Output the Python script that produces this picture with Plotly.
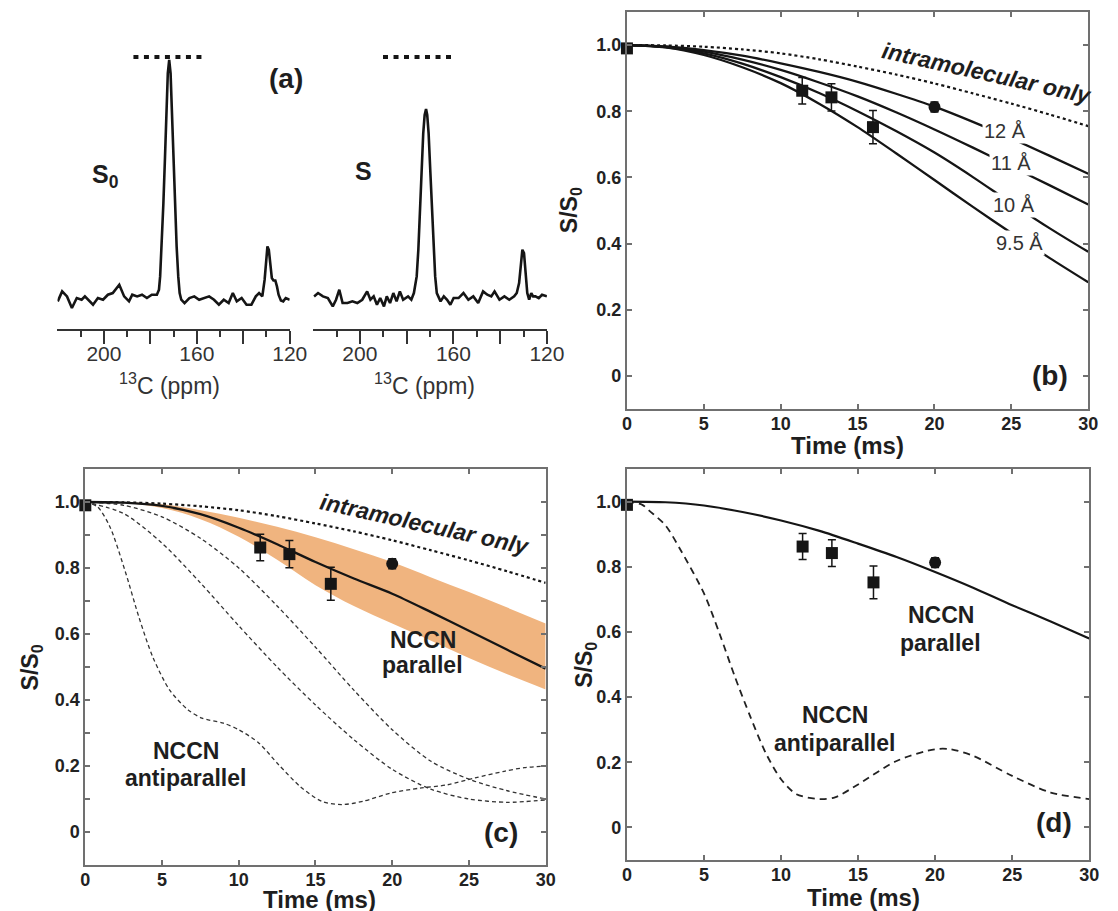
import plotly.graph_objects as go

FONT = "Liberation Sans, Arial, Helvetica, sans-serif"
W, H = 1118, 911

# ---------------- (a) 13C spectra ----------------
s0_ppm = [219.9, 218.0, 215.9, 213.8, 211.7, 209.6, 208.2, 206.1, 204.7, 202.6,
          200.4, 198.3, 196.2, 193.4, 191.3, 189.2, 187.8, 185.7, 183.6, 181.5,
          179.4, 177.2, 176.3, 175.8, 175.1, 174.4, 173.7, 173.0, 172.5, 171.9,
          171.3, 170.8, 170.1, 169.4, 168.7, 168.0, 167.4, 166.7, 165.3, 163.2,
          161.1, 159.0, 156.8, 154.7, 152.6, 150.5, 148.4, 146.3, 144.5, 142.8,
          140.7, 138.6, 136.5, 134.6, 133.2, 131.8, 130.8, 130.1, 129.6, 129.0,
          128.4, 127.7, 127.0, 126.2, 125.5, 124.8, 123.8, 122.8, 121.7, 120.0]
s0_int = [-0.014, 0.028, 0.007, -0.042, 0.0, -0.007, 0.007, -0.014, -0.028, 0.0,
          -0.007, 0.014, 0.021, 0.056, 0.007, -0.014, 0.014, 0.007, 0.014, 0.0,
          0.014, 0.014, 0.035, 0.091, 0.217, 0.398, 0.594, 0.804, 0.944, 1.0,
          0.944, 0.804, 0.594, 0.398, 0.217, 0.091, 0.021, -0.007, -0.021, 0.0,
          0.007, -0.007, 0.0, 0.007, -0.007, -0.028, -0.007, -0.021, 0.021, -0.014,
          0.0, -0.028, -0.028, 0.007, 0.021, 0.007, 0.077, 0.175, 0.217, 0.203,
          0.147, 0.084, 0.074, 0.074, 0.049, 0.014, -0.010, -0.014, 0.0, -0.007]

s_ppm = [219.6, 217.9, 215.8, 213.7, 211.6, 210.2, 208.8, 207.4, 205.3, 203.2,
         201.1, 199.0, 196.9, 195.5, 194.1, 192.7, 191.3, 189.7, 188.5, 187.1,
         185.7, 184.3, 182.9, 181.5, 179.4, 178.0, 176.9, 176.4, 175.7, 175.0,
         174.3, 173.6, 172.9, 172.3, 171.7, 171.2, 170.6, 169.9, 169.2, 168.5,
         167.8, 167.1, 165.5, 164.1, 162.7, 161.3, 159.9, 157.8, 155.7, 153.6,
         151.5, 149.4, 147.3, 145.5, 143.8, 142.4, 140.3, 138.2, 136.1, 134.0,
         132.9, 131.9, 131.2, 130.5, 129.8, 129.1, 128.4, 127.6, 126.7, 125.9,
         124.9, 123.5, 122.1, 120.0]
s_int = [0.007, 0.021, 0.007, 0.0, -0.035, -0.007, 0.035, -0.021, -0.021, -0.014,
         -0.021, -0.007, 0.028, -0.007, 0.007, -0.028, 0.0, -0.035, 0.007, -0.021,
         0.021, -0.014, 0.028, -0.007, 0.007, -0.007, 0.021, 0.049, 0.091, 0.203,
         0.371, 0.538, 0.692, 0.769, 0.794, 0.769, 0.692, 0.538, 0.371, 0.203,
         0.091, 0.021, -0.014, 0.007, -0.007, -0.028, 0.0, 0.0, 0.021, -0.007,
         0.007, -0.021, 0.028, 0.014, 0.007, 0.028, -0.007, 0.007, -0.007, 0.007,
         0.021, 0.063, 0.147, 0.203, 0.189, 0.091, 0.021, -0.007, 0.021, 0.007,
         0.007, 0.0, 0.014, 0.007]

ref_s0_ppm = [187.3, 156.1]
ref_s_ppm = [190.1, 159.1]
ref_level = [1.013, 1.013]

ppm_major = [200, 180, 160, 140, 120]
ppm_major_text = ["200", "", "160", "", "120"]
ppm_minor = [210, 190, 170, 150, 130]

# ---------------- (b)-(d) decay curves ----------------
time_grid = [0, 2.5, 5, 7.5, 10, 12.5, 15, 17.5, 20, 22.5, 25, 27.5, 30]
intra_only = [1.0, 0.999, 0.995, 0.987, 0.975, 0.957, 0.935, 0.911, 0.884, 0.854, 0.823, 0.79, 0.755]
r12 = [1.0, 0.996, 0.985, 0.968, 0.945, 0.919, 0.889, 0.853, 0.814, 0.768, 0.718, 0.665, 0.611]
r11 = [1.0, 0.995, 0.980, 0.956, 0.925, 0.887, 0.845, 0.797, 0.745, 0.690, 0.633, 0.576, 0.518]
r10 = [1.0, 0.994, 0.975, 0.944, 0.903, 0.855, 0.800, 0.740, 0.675, 0.601, 0.522, 0.446, 0.375]
r95 = [1.0, 0.993, 0.970, 0.933, 0.885, 0.823, 0.752, 0.673, 0.592, 0.511, 0.432, 0.356, 0.283]
dist_labels = ["12 Å", "11 Å", "10 Å", "9.5 Å"]

exp_t = [0, 11.4, 13.3, 16.0, 20.0]
exp_v = [0.99, 0.862, 0.842, 0.752, 0.813]
exp_err = [0, 0.04, 0.041, 0.05, 0.015]
exp_sym = ["square", "square", "square", "square", "circle"]

par_lo = [1.0, 0.997, 0.982, 0.948, 0.895, 0.825, 0.748, 0.685, 0.632, 0.58, 0.527, 0.478, 0.432]
par_hi = [1.0, 0.999, 0.993, 0.975, 0.952, 0.925, 0.893, 0.857, 0.818, 0.772, 0.727, 0.68, 0.632]
par_mid = [1.0, 0.998, 0.988, 0.963, 0.922, 0.872, 0.818, 0.768, 0.722, 0.667, 0.61, 0.552, 0.495]

anti_a_t = [0, 0.8, 1.6, 2.6, 3.5, 4.4, 5.5, 6.7, 7.6, 9, 10, 11.3, 12.6, 14, 15.4, 16.7,
            18.1, 19.9, 21.8, 23.6, 25.4, 27.3, 28.6, 30]
anti_a_v = [1.0, 0.985, 0.925, 0.79, 0.65, 0.53, 0.43, 0.37, 0.345, 0.33, 0.31, 0.27, 0.204,
            0.138, 0.093, 0.083, 0.093, 0.118, 0.133, 0.143, 0.164, 0.184, 0.195, 0.20]
anti_b = [1.0, 0.965, 0.875, 0.755, 0.625, 0.5, 0.385, 0.28, 0.19, 0.13, 0.10, 0.09, 0.097]
anti_c = [1.0, 0.99, 0.955, 0.89, 0.8, 0.685, 0.56, 0.43, 0.31, 0.215, 0.16, 0.125, 0.10]

d_par = [1.0, 0.998, 0.988, 0.968, 0.942, 0.91, 0.871, 0.83, 0.784, 0.735, 0.682, 0.632, 0.58]
d_anti_t = [0, 1, 1.5, 2.5, 3.5, 5, 6, 7, 8, 9, 10, 11, 12.5, 13.5, 15, 17.5, 20, 21, 22.5, 25, 27.5, 30]
d_anti_v = [1.0, 0.99, 0.97, 0.927, 0.85, 0.718, 0.596, 0.463, 0.341, 0.229, 0.148, 0.102, 0.087,
            0.092, 0.132, 0.204, 0.24, 0.24, 0.219, 0.158, 0.107, 0.087]

y_ticks = [0, 0.2, 0.4, 0.6, 0.8, 1.0]
y_ticktext = ["0", "0.2", "0.4", "0.6", "0.8", "1.0"]
x_ticks = [0, 5, 10, 15, 20, 25, 30]


def px_x(a, b):
    return [a / W, b / W]


def px_y(top, bottom):
    return [1 - bottom / H, 1 - top / H]


fig = go.Figure()
BLACK = "#151515"


def line(x, y, ax, width=2.2, dash=None, color=BLACK, shape="spline"):
    fig.add_trace(go.Scatter(x=x, y=y, mode="lines", xaxis="x" + ax, yaxis="y" + ax,
                             line=dict(color=color, width=width, dash=dash, shape=shape, smoothing=0.8),
                             showlegend=False, hoverinfo="skip"))


# (a)
fig.add_trace(go.Scatter(x=s0_ppm, y=s0_int, mode="lines", xaxis="x", yaxis="y",
                         line=dict(color=BLACK, width=2.6), showlegend=False, hoverinfo="skip"))
fig.add_trace(go.Scatter(x=ref_s0_ppm, y=ref_level, mode="lines", xaxis="x", yaxis="y",
                         line=dict(color=BLACK, width=4, dash="5px,5.5px"), showlegend=False, hoverinfo="skip"))
fig.add_trace(go.Scatter(x=s_ppm, y=s_int, mode="lines", xaxis="x2", yaxis="y2",
                         line=dict(color=BLACK, width=2.6), showlegend=False, hoverinfo="skip"))
fig.add_trace(go.Scatter(x=ref_s_ppm, y=ref_level, mode="lines", xaxis="x2", yaxis="y2",
                         line=dict(color=BLACK, width=4, dash="5px,5.5px"), showlegend=False, hoverinfo="skip"))

# (b)
line(time_grid, intra_only, "3", width=2.2, dash="dot")
for ys in (r12, r11, r10, r95):
    line(time_grid, ys, "3", width=2.3)

# (c)
fig.add_trace(go.Scatter(x=time_grid, y=par_lo, mode="lines", xaxis="x4", yaxis="y4",
                         line=dict(width=0, shape="spline"), showlegend=False, hoverinfo="skip"))
fig.add_trace(go.Scatter(x=time_grid, y=par_hi, mode="lines", xaxis="x4", yaxis="y4", fill="tonexty",
                         fillcolor="rgb(240,180,127)", line=dict(width=0, shape="spline"),
                         showlegend=False, hoverinfo="skip"))
line(anti_a_t, anti_a_v, "4", width=1.3, dash="4px,3px", color="#333")
line(time_grid, anti_b, "4", width=1.3, dash="4px,3px", color="#333")
line(time_grid, anti_c, "4", width=1.3, dash="4px,3px", color="#333")
line(time_grid, intra_only, "4", width=2.2, dash="dot")
line(time_grid, par_mid, "4", width=2.3)

# (d)
line(time_grid, d_par, "5", width=2.2)
line(d_anti_t, d_anti_v, "5", width=1.8, dash="7px,5px", color="#222")

# experimental points
for ax in ("3", "4", "5"):
    fig.add_trace(go.Scatter(x=exp_t, y=exp_v, mode="markers", xaxis="x" + ax, yaxis="y" + ax,
                             marker=dict(symbol=exp_sym, size=12, color=BLACK),
                             error_y=dict(type="data", array=exp_err, color=BLACK, thickness=1.5, width=4),
                             cliponaxis=False, showlegend=False, hoverinfo="skip"))

frame_col = "#707070"
tick_font = dict(family=FONT, size=18, color="#222", weight="bold")


def frame_x(domain, anchor):
    return dict(domain=domain, anchor=anchor, range=[0, 30], tickvals=x_ticks,
                showline=True, linecolor=frame_col, linewidth=2, mirror="ticks",
                ticks="inside", ticklen=5, tickwidth=1.5, tickcolor=frame_col,
                showgrid=False, zeroline=False, tickfont=tick_font, ticklabelstandoff=-3)


def frame_y(domain, anchor, minor=False):
    d = dict(domain=domain, anchor=anchor, range=[-0.1, 1.1], tickvals=y_ticks, ticktext=y_ticktext,
             showline=True, linecolor=frame_col, linewidth=2, mirror="ticks",
             ticks="inside", ticklen=5, tickwidth=1.5, tickcolor=frame_col,
             showgrid=False, zeroline=False, tickfont=tick_font)
    if minor:
        d["minor"] = dict(tickvals=[0.1, 0.3, 0.5, 0.7, 0.9], ticks="inside", ticklen=5,
                          tickwidth=1.5, tickcolor=frame_col)
    return d


def spec_x(domain, anchor):
    return dict(domain=domain, anchor=anchor, range=[220, 120], tickvals=ppm_major, ticktext=ppm_major_text,
                showline=True, linecolor="#333", linewidth=1.5, ticks="outside", ticklen=13,
                tickwidth=1.5, tickcolor="#333", showgrid=False, zeroline=False,
                tickfont=dict(family=FONT, size=21, color="#333"), ticklabelstandoff=-8,
                minor=dict(tickvals=ppm_minor, ticks="outside", ticklen=6, tickwidth=1.5, tickcolor="#333"))


spec_ydom = px_y(40, 329)
spec_yrange = [-0.13, 1.084]

fig.update_layout(
    width=W, height=H, margin=dict(l=0, r=0, t=0, b=0),
    paper_bgcolor="white", plot_bgcolor="white", showlegend=False,
    xaxis=spec_x(px_x(53.6, 290.7), "y"),
    yaxis=dict(domain=spec_ydom, range=spec_yrange, visible=False, anchor="x"),
    xaxis2=spec_x(px_x(314.6, 553.3), "y2"),
    yaxis2=dict(domain=spec_ydom, range=spec_yrange, visible=False, anchor="x2"),
    xaxis3=frame_x(px_x(635, 1106), "y3"),
    yaxis3=frame_y(px_y(12, 409), "x3"),
    xaxis4=frame_x(px_x(82, 552), "y4"),
    yaxis4=frame_y(px_y(469, 865), "x4", minor=True),
    xaxis5=frame_x(px_x(635, 1107), "y5"),
    yaxis5=frame_y(px_y(469, 860), "x5"),
)

anns = []


def ann(text, x, y, size, ref=None, bold=True, italic=False, angle=0, color="#1e1e1e", bg=None):
    d = dict(text=text, x=x, y=y, showarrow=False, textangle=angle,
             font=dict(family=FONT, size=size, color=color, weight="bold" if bold else "normal",
                       style="italic" if italic else "normal"),
             xanchor="center", yanchor="middle")
    if ref is None:
        d.update(xref="paper", yref="paper", x=x / W, y=1 - y / H)
    else:
        d.update(xref="x" + ref, yref="y" + ref)
    if bg:
        d.update(bgcolor=bg, borderpad=1)
    anns.append(d)


# (a) texts
ann("(a)", 287, 79, 28)
ann("S<sub>0</sub>", 103, 176, 25)
ann("S", 366, 171, 25)
ann("<sup>13</sup>C (ppm)", 168, 384, 23, bold=False, color="#333")
ann("<sup>13</sup>C (ppm)", 428, 384, 23, bold=False, color="#333")

# axis titles
ann("Time (ms)", 860, 445, 24)
ann("Time (ms)", 321, 899, 24)
ann("Time (ms)", 877, 897, 24)
ann("S/S<sub>0</sub>", 577, 210, 23, angle=-90)
ann("S/S<sub>0</sub>", 27, 667, 23, angle=-90)
ann("S/S<sub>0</sub>", 592, 665, 23, angle=-90)

# (b)
ann("intramolecular only", 23.4, 0.915, 23, ref="3", italic=True, angle=12.5)
for lab, lx, ly in zip(dist_labels, [24.6, 25.0, 25.2, 25.5], [0.739, 0.643, 0.518, 0.402]):
    ann(lab, lx, ly, 20, ref="3", bold=False, color="#333", bg="white")
ann("(b)", 27.5, 0.0, 28, ref="3")

# (c)
ann("intramolecular only", 22.1, 0.934, 23, ref="4", italic=True, angle=12.4)
ann("NCCN", 22.0, 0.582, 23, ref="4")
ann("parallel", 22.0, 0.506, 23, ref="4")
ann("NCCN", 6.56, 0.244, 23, ref="4")
ann("antiparallel", 6.56, 0.163, 23, ref="4")
ann("(c)", 27.1, 0.0, 28, ref="4")

# (d)
ann("NCCN", 20.35, 0.652, 23, ref="5")
ann("parallel", 20.35, 0.565, 23, ref="5")
ann("NCCN", 13.5, 0.346, 23, ref="5")
ann("antiparallel", 13.5, 0.26, 23, ref="5")
ann("(d)", 27.7, 0.015, 28, ref="5")

fig.update_layout(annotations=anns)

fig.write_html("out.html", config={"displayModeBar": False},
               post_script="document.body.style.margin='0';")
